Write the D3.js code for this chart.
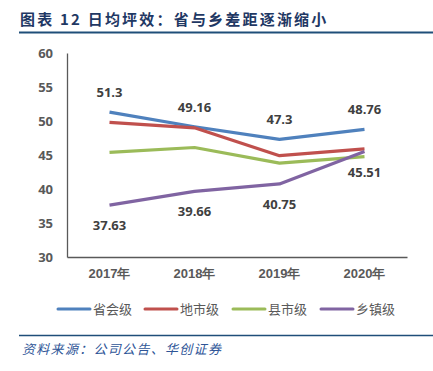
<!DOCTYPE html>
<html>
<head>
<meta charset="utf-8">
<script src="https://cdn.jsdelivr.net/npm/d3@7"></script>
<style>
  body { margin: 0; background: #fff; }
  svg { font-family: "Noto Sans CJK SC", "Noto Sans", sans-serif; }
</style>
</head>
<body>
<div id="chart"></div>
<script>
// data
const years = ["2017年", "2018年", "2019年", "2020年"];
const seriesNames = ["省会级", "地市级", "县市级", "乡镇级"];
const provincial = [51.3, 49.16, 47.3, 48.76];
const prefecture = [49.8, 49.0, 44.9, 45.9];
const county = [45.4, 46.1, 43.8, 44.75];
const township = [37.63, 39.66, 40.75, 45.51];
const yTicks = [30, 35, 40, 45, 50, 55, 60];

const colors = ["#4F81BD", "#C0504D", "#9BBB59", "#8064A2"];
const allSeries = [provincial, prefecture, county, township];

const W = 433, H = 371;
const svg = d3.select("#chart").append("svg")
  .attr("width", W)
  .attr("height", H);

// title
svg.append("text")
  .attr("x", 20)
  .attr("y", 25)
  .attr("fill", "#1F3864")
  .attr("font-size", 15)
  .attr("font-weight", "bold")
  .attr("letter-spacing", 2.2)
  .text("图表 12 日均坪效：省与乡差距逐渐缩小");

svg.append("line")
  .attr("x1", 19).attr("x2", 433)
  .attr("y1", 32.5).attr("y2", 32.5)
  .attr("stroke", "#1F4E79")
  .attr("stroke-width", 2);

// scales
const x = d3.scaleBand().domain(years).range([67, 407]);
const y = d3.scaleLinear().domain([30, 60]).range([257, 53]);

// y axis
const yAxis = svg.append("g")
  .attr("transform", "translate(67,0)")
  .call(d3.axisLeft(y).tickValues(yTicks).tickSize(0).tickPadding(14));
yAxis.select(".domain").attr("stroke", "#595959").attr("stroke-width", 1.3);
yAxis.selectAll("text")
  .attr("fill", "#595959")
  .attr("font-size", 13)
  .attr("font-weight", "bold")
  .attr("font-family", "'Open Sans', 'Noto Sans', sans-serif");

// x axis
const xAxis = svg.append("g")
  .attr("transform", "translate(0,257)")
  .call(d3.axisBottom(x).tickSize(0).tickPadding(12));
xAxis.select(".domain").attr("stroke", "#595959").attr("stroke-width", 1.3);
xAxis.selectAll("text")
  .attr("fill", "#595959")
  .attr("font-size", 13)
  .attr("font-weight", "bold");

// lines
const line = d3.line()
  .x((d, i) => x(years[i]) + x.bandwidth() / 2)
  .y(d => y(d));

allSeries.forEach((vals, k) => {
  svg.append("path")
    .datum(vals)
    .attr("d", line)
    .attr("fill", "none")
    .attr("stroke", colors[k])
    .attr("stroke-width", 3.2)
    .attr("stroke-linejoin", "round");
});

// data labels: provincial above, township below
const labelFont = "'Open Sans', 'Noto Sans', sans-serif";
svg.append("g").selectAll("text")
  .data(provincial)
  .join("text")
  .attr("x", (d, i) => x(years[i]) + x.bandwidth() / 2)
  .attr("y", d => y(d) - 15)
  .attr("text-anchor", "middle")
  .attr("fill", "#404040")
  .attr("font-size", 13)
  .attr("font-weight", "bold")
  .attr("font-family", labelFont)
  .text(d => d);

svg.append("g").selectAll("text")
  .data(township)
  .join("text")
  .attr("x", (d, i) => x(years[i]) + x.bandwidth() / 2)
  .attr("y", d => y(d) + 25)
  .attr("text-anchor", "middle")
  .attr("fill", "#404040")
  .attr("font-size", 13)
  .attr("font-weight", "bold")
  .attr("font-family", labelFont)
  .text(d => d);

// legend
const legendX = [58, 145, 233, 321];
const legend = svg.append("g");
seriesNames.forEach((name, k) => {
  legend.append("line")
    .attr("x1", legendX[k]).attr("x2", legendX[k] + 32)
    .attr("y1", 309).attr("y2", 309)
    .attr("stroke", colors[k])
    .attr("stroke-width", 3)
    .attr("stroke-linecap", "round");
  legend.append("text")
    .attr("x", legendX[k] + 35)
    .attr("y", 314)
    .attr("fill", "#595959")
    .attr("font-size", 13)
    .text(name);
});

// source line
svg.append("line")
  .attr("x1", 19).attr("x2", 433)
  .attr("y1", 335.5).attr("y2", 335.5)
  .attr("stroke", "#1F4E79")
  .attr("stroke-width", 1.5);

svg.append("text")
  .attr("x", 22)
  .attr("y", 354)
  .attr("fill", "#2E5597")
  .attr("font-size", 13)
  .attr("font-style", "italic")
  .attr("letter-spacing", 1.3)
  .text("资料来源：公司公告、华创证券");
</script>
</body>
</html>
